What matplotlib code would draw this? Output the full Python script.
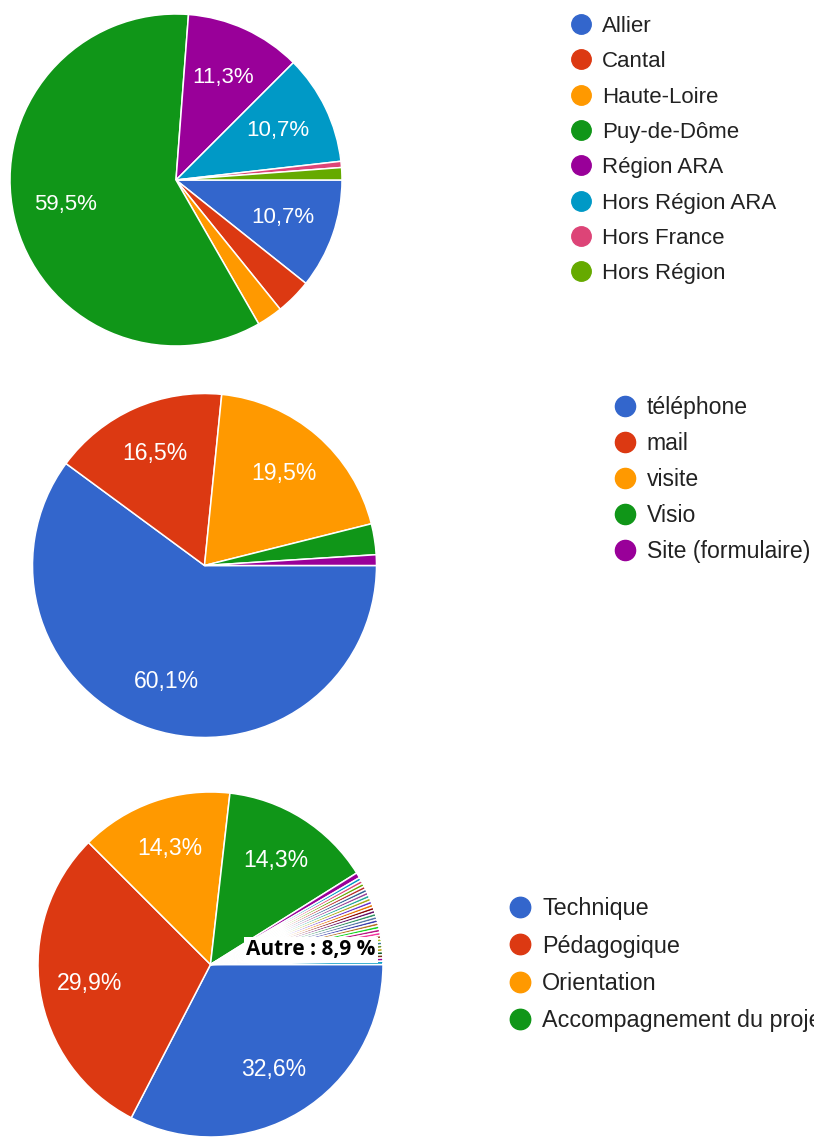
import matplotlib
matplotlib.use('Agg')
import matplotlib.pyplot as plt
from matplotlib.lines import Line2D

# --- données ---
dep_labels = ['Allier', 'Cantal', 'Haute-Loire', 'Puy-de-Dôme', 'Région ARA',
              'Hors Région ARA', 'Hors France', 'Hors Région']
dep_values = [10.7, 3.5, 2.5, 59.5, 11.3, 10.7, 0.6, 1.2]

contact_labels = ['téléphone', 'mail', 'visite', 'Visio', 'Site (formulaire)']
contact_values = [60.1, 16.5, 19.5, 2.9, 1.0]

demande_labels = ['Technique', 'Pédagogique', 'Orientation', 'Accompagnement du projet']
demande_values = [32.6, 29.9, 14.3, 14.3]
# petites réponses regroupées dans "Autre" (8,9 %)
autre_values = [0.5, 0.3, 0.3, 0.3, 0.3, 0.3, 0.3, 0.3, 0.3, 0.3, 0.3, 0.3, 0.3, 0.3, 0.3,
                0.3, 0.3, 0.3, 0.3, 0.3, 0.3, 0.3, 0.3, 0.3, 0.3, 0.3, 0.3, 0.3, 0.3]
autre_label = 'Autre : 8,9 %'

# palette Google Charts
gcolors = ['#3366CC', '#DC3912', '#FF9900', '#109618', '#990099', '#0099C6', '#DD4477',
           '#66AA00', '#B82E2E', '#316395', '#994499', '#22AA99', '#AAAA11', '#6633CC',
           '#E67300', '#8B0707', '#651067', '#329262', '#5574A6', '#3B3EAC', '#B77322',
           '#16D620', '#B91383', '#F4359E', '#9C5935', '#A9C413', '#2A778D', '#668D1C',
           '#BEA413', '#0C5922', '#743411']

W, H = 814, 1137
fig = plt.figure(figsize=(W / 100, H / 100), dpi=100)
plt.rcParams['font.family'] = ['Liberation Sans', 'DejaVu Sans']


def fx(x):
    return x / W


def fy(y):
    return 1 - y / H


def pct_fmt(p):
    if p < 5:
        return ''
    return f'{p:.1f}%'.replace('.', ',')


def pie_axes(cx, cy, r):
    ax = fig.add_axes([fx(cx - r), fy(cy + r), 2 * r / W, 2 * r / H])
    return ax


def draw_pie(ax, values, colors, pctdist, fs):
    wedges, _, autotexts = ax.pie(values, colors=colors, startangle=0, counterclock=False,
                                  autopct=pct_fmt, pctdistance=pctdist,
                                  wedgeprops=dict(edgecolor='white', linewidth=1.1),
                                  textprops=dict(color='white', fontsize=fs))
    ax.set_xlim(-1, 1)
    ax.set_ylim(-1, 1)
    ax.set_aspect('equal')
    return wedges


def draw_legend(labels, colors, mx, y0, dy, fs):
    k = fs / 16
    for i, (lab, col) in enumerate(zip(labels, colors)):
        y = y0 + i * dy
        fig.add_artist(Line2D([fx(mx)], [fy(y)], marker='o', markersize=14 * k,
                              color=col, linestyle='none', transform=fig.transFigure))
        fig.text(fx(mx + 21 * k), fy(y + 8 * k), lab, fontsize=fs, color='#222222',
                 va='baseline', ha='left')


# --- camembert 1 : départements ---
ax1 = pie_axes(176, 180, 166)
draw_pie(ax1, dep_values, gcolors[:len(dep_values)], 0.68, 16)
draw_legend(dep_labels, gcolors, 581, 24, 35.3, 16)

# --- camembert 2 : type de contact ---
ax2 = pie_axes(204.5, 565.5, 172)
draw_pie(ax2, contact_values, gcolors[:len(contact_values)], 0.71, 16.6)
draw_legend(contact_labels, gcolors, 625, 406, 36, 16.6)

# --- camembert 3 : nature de la demande ---
ax3 = pie_axes(210.5, 964.5, 172.5)
vals3 = demande_values + autre_values
cols3 = gcolors[:4] + [gcolors[4 + (i % (len(gcolors) - 4))] for i in range(len(autre_values))]
draw_pie(ax3, vals3, cols3, 0.71, 16.6)
draw_legend(demande_labels, gcolors, 520, 907, 37.3, 16.8)

fig.text(fx(311), fy(950), autre_label, fontsize=15, fontweight='bold', family='Open Sans',
         color='black', ha='center', va='center',
         bbox=dict(facecolor='white', edgecolor='none', pad=1.5))

fig.savefig('out.png', dpi=100)
